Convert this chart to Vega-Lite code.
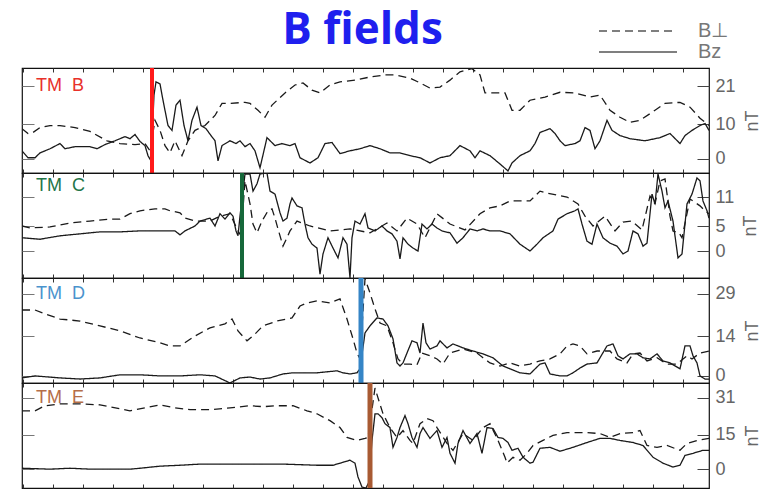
{
"$schema":"https://vega.github.io/schema/vega-lite/v6.json",
"background":"white",
"padding":{"left":20,"top":8,"right":0,"bottom":0},
"bounds":"flush",
"datasets":{
"events":[{"p":"B","t":152},{"p":"C","t":242},{"p":"D","t":361},{"p":"E","t":370}],
"lines":[
{"p":"B","s":"Bz","t":22,"v":2.3},{"p":"B","s":"Bz","t":28,"v":0.3},{"p":"B","s":"Bz","t":35,"v":0.3},{"p":"B","s":"Bz","t":40,"v":1.7},{"p":"B","s":"Bz","t":50,"v":2.9},{"p":"B","s":"Bz","t":60,"v":4.4},{"p":"B","s":"Bz","t":65,"v":2.9},{"p":"B","s":"Bz","t":75,"v":3.5},{"p":"B","s":"Bz","t":90,"v":3.5},{"p":"B","s":"Bz","t":97,"v":2.9},{"p":"B","s":"Bz","t":105,"v":4.1},{"p":"B","s":"Bz","t":115,"v":5.2},{"p":"B","s":"Bz","t":125,"v":6.4},{"p":"B","s":"Bz","t":130,"v":5.8},{"p":"B","s":"Bz","t":135,"v":7.0},{"p":"B","s":"Bz","t":140,"v":5.0},{"p":"B","s":"Bz","t":145,"v":3.8},{"p":"B","s":"Bz","t":148,"v":0.9},{"p":"B","s":"Bz","t":151,"v":-0.6},{"p":"B","s":"Bz","t":154,"v":18.4},{"p":"B","s":"Bz","t":156,"v":22.2},{"p":"B","s":"Bz","t":160,"v":21.6},{"p":"B","s":"Bz","t":163,"v":16.9},{"p":"B","s":"Bz","t":168,"v":9.6},{"p":"B","s":"Bz","t":172,"v":8.2},{"p":"B","s":"Bz","t":176,"v":15.5},{"p":"B","s":"Bz","t":180,"v":16.9},{"p":"B","s":"Bz","t":184,"v":9.6},{"p":"B","s":"Bz","t":188,"v":5.2},{"p":"B","s":"Bz","t":192,"v":11.1},{"p":"B","s":"Bz","t":197,"v":14.9},{"p":"B","s":"Bz","t":201,"v":9.6},{"p":"B","s":"Bz","t":206,"v":8.7},{"p":"B","s":"Bz","t":211,"v":6.7},{"p":"B","s":"Bz","t":215,"v":5.2},{"p":"B","s":"Bz","t":218,"v":-0.6},{"p":"B","s":"Bz","t":222,"v":3.8},{"p":"B","s":"Bz","t":230,"v":5.2},{"p":"B","s":"Bz","t":236,"v":4.4},{"p":"B","s":"Bz","t":240,"v":5.2},{"p":"B","s":"Bz","t":245,"v":3.5},{"p":"B","s":"Bz","t":250,"v":4.4},{"p":"B","s":"Bz","t":255,"v":2.3},{"p":"B","s":"Bz","t":260,"v":-2.6},{"p":"B","s":"Bz","t":267,"v":6.1},{"p":"B","s":"Bz","t":275,"v":3.8},{"p":"B","s":"Bz","t":282,"v":4.4},{"p":"B","s":"Bz","t":290,"v":3.8},{"p":"B","s":"Bz","t":295,"v":4.4},{"p":"B","s":"Bz","t":300,"v":0.3},{"p":"B","s":"Bz","t":310,"v":-1.2},{"p":"B","s":"Bz","t":318,"v":0.3},{"p":"B","s":"Bz","t":325,"v":4.4},{"p":"B","s":"Bz","t":332,"v":4.7},{"p":"B","s":"Bz","t":340,"v":1.5},{"p":"B","s":"Bz","t":350,"v":2.3},{"p":"B","s":"Bz","t":360,"v":2.9},{"p":"B","s":"Bz","t":370,"v":3.8},{"p":"B","s":"Bz","t":380,"v":2.9},{"p":"B","s":"Bz","t":390,"v":1.7},{"p":"B","s":"Bz","t":400,"v":1.7},{"p":"B","s":"Bz","t":410,"v":0.9},{"p":"B","s":"Bz","t":420,"v":0.3},{"p":"B","s":"Bz","t":430,"v":-1.2},{"p":"B","s":"Bz","t":440,"v":0.3},{"p":"B","s":"Bz","t":450,"v":0.9},{"p":"B","s":"Bz","t":460,"v":3.8},{"p":"B","s":"Bz","t":470,"v":2.3},{"p":"B","s":"Bz","t":475,"v":0.3},{"p":"B","s":"Bz","t":480,"v":2.3},{"p":"B","s":"Bz","t":490,"v":0.9},{"p":"B","s":"Bz","t":500,"v":-1.5},{"p":"B","s":"Bz","t":508,"v":-3.5},{"p":"B","s":"Bz","t":512,"v":-1.2},{"p":"B","s":"Bz","t":520,"v":0.9},{"p":"B","s":"Bz","t":530,"v":2.3},{"p":"B","s":"Bz","t":535,"v":4.4},{"p":"B","s":"Bz","t":540,"v":7.6},{"p":"B","s":"Bz","t":550,"v":8.7},{"p":"B","s":"Bz","t":555,"v":7.3},{"p":"B","s":"Bz","t":560,"v":5.2},{"p":"B","s":"Bz","t":565,"v":3.8},{"p":"B","s":"Bz","t":575,"v":4.4},{"p":"B","s":"Bz","t":580,"v":5.2},{"p":"B","s":"Bz","t":585,"v":9.0},{"p":"B","s":"Bz","t":590,"v":8.2},{"p":"B","s":"Bz","t":595,"v":2.9},{"p":"B","s":"Bz","t":600,"v":5.2},{"p":"B","s":"Bz","t":607,"v":11.1},{"p":"B","s":"Bz","t":612,"v":8.2},{"p":"B","s":"Bz","t":620,"v":6.7},{"p":"B","s":"Bz","t":630,"v":5.8},{"p":"B","s":"Bz","t":645,"v":5.2},{"p":"B","s":"Bz","t":660,"v":6.1},{"p":"B","s":"Bz","t":670,"v":7.3},{"p":"B","s":"Bz","t":680,"v":4.4},{"p":"B","s":"Bz","t":685,"v":6.7},{"p":"B","s":"Bz","t":692,"v":8.2},{"p":"B","s":"Bz","t":700,"v":9.6},{"p":"B","s":"Bz","t":705,"v":10.2},{"p":"B","s":"Bz","t":709,"v":8.2},
{"p":"B","s":"B⊥","t":22,"v":8.7},{"p":"B","s":"B⊥","t":28,"v":7.3},{"p":"B","s":"B⊥","t":33,"v":7.6},{"p":"B","s":"B⊥","t":40,"v":9.0},{"p":"B","s":"B⊥","t":50,"v":9.6},{"p":"B","s":"B⊥","t":60,"v":9.6},{"p":"B","s":"B⊥","t":75,"v":9.0},{"p":"B","s":"B⊥","t":90,"v":7.9},{"p":"B","s":"B⊥","t":107,"v":5.2},{"p":"B","s":"B⊥","t":120,"v":4.4},{"p":"B","s":"B⊥","t":135,"v":4.1},{"p":"B","s":"B⊥","t":145,"v":4.4},{"p":"B","s":"B⊥","t":150,"v":2.3},{"p":"B","s":"B⊥","t":155,"v":11.1},{"p":"B","s":"B⊥","t":160,"v":8.2},{"p":"B","s":"B⊥","t":165,"v":3.8},{"p":"B","s":"B⊥","t":170,"v":1.7},{"p":"B","s":"B⊥","t":175,"v":5.2},{"p":"B","s":"B⊥","t":182,"v":0.9},{"p":"B","s":"B⊥","t":188,"v":5.2},{"p":"B","s":"B⊥","t":195,"v":8.2},{"p":"B","s":"B⊥","t":205,"v":9.6},{"p":"B","s":"B⊥","t":215,"v":12.5},{"p":"B","s":"B⊥","t":222,"v":16.0},{"p":"B","s":"B⊥","t":230,"v":16.0},{"p":"B","s":"B⊥","t":245,"v":16.3},{"p":"B","s":"B⊥","t":250,"v":16.0},{"p":"B","s":"B⊥","t":258,"v":14.0},{"p":"B","s":"B⊥","t":265,"v":12.0},{"p":"B","s":"B⊥","t":272,"v":15.5},{"p":"B","s":"B⊥","t":285,"v":19.0},{"p":"B","s":"B⊥","t":295,"v":21.3},{"p":"B","s":"B⊥","t":303,"v":21.9},{"p":"B","s":"B⊥","t":312,"v":19.8},{"p":"B","s":"B⊥","t":320,"v":19.0},{"p":"B","s":"B⊥","t":330,"v":21.3},{"p":"B","s":"B⊥","t":340,"v":22.2},{"p":"B","s":"B⊥","t":355,"v":22.7},{"p":"B","s":"B⊥","t":370,"v":23.6},{"p":"B","s":"B⊥","t":385,"v":24.2},{"p":"B","s":"B⊥","t":395,"v":24.2},{"p":"B","s":"B⊥","t":410,"v":23.3},{"p":"B","s":"B⊥","t":420,"v":21.9},{"p":"B","s":"B⊥","t":430,"v":20.4},{"p":"B","s":"B⊥","t":440,"v":20.7},{"p":"B","s":"B⊥","t":450,"v":22.7},{"p":"B","s":"B⊥","t":460,"v":25.1},{"p":"B","s":"B⊥","t":472,"v":26.0},{"p":"B","s":"B⊥","t":480,"v":24.2},{"p":"B","s":"B⊥","t":485,"v":19.0},{"p":"B","s":"B⊥","t":495,"v":19.0},{"p":"B","s":"B⊥","t":505,"v":19.0},{"p":"B","s":"B⊥","t":512,"v":14.0},{"p":"B","s":"B⊥","t":520,"v":14.0},{"p":"B","s":"B⊥","t":530,"v":16.9},{"p":"B","s":"B⊥","t":545,"v":17.8},{"p":"B","s":"B⊥","t":560,"v":19.2},{"p":"B","s":"B⊥","t":575,"v":19.0},{"p":"B","s":"B⊥","t":590,"v":17.8},{"p":"B","s":"B⊥","t":600,"v":18.4},{"p":"B","s":"B⊥","t":610,"v":14.0},{"p":"B","s":"B⊥","t":620,"v":12.0},{"p":"B","s":"B⊥","t":630,"v":10.5},{"p":"B","s":"B⊥","t":640,"v":11.1},{"p":"B","s":"B⊥","t":655,"v":14.0},{"p":"B","s":"B⊥","t":665,"v":16.0},{"p":"B","s":"B⊥","t":680,"v":16.3},{"p":"B","s":"B⊥","t":690,"v":14.9},{"p":"B","s":"B⊥","t":700,"v":11.7},{"p":"B","s":"B⊥","t":709,"v":9.6},
{"p":"C","s":"B⊥","t":22,"v":5.1},{"p":"C","s":"B⊥","t":30,"v":4.7},{"p":"C","s":"B⊥","t":50,"v":4.9},{"p":"C","s":"B⊥","t":70,"v":5.7},{"p":"C","s":"B⊥","t":90,"v":6.1},{"p":"C","s":"B⊥","t":110,"v":6.5},{"p":"C","s":"B⊥","t":120,"v":6.5},{"p":"C","s":"B⊥","t":130,"v":7.6},{"p":"C","s":"B⊥","t":140,"v":8.2},{"p":"C","s":"B⊥","t":155,"v":8.6},{"p":"C","s":"B⊥","t":165,"v":8.6},{"p":"C","s":"B⊥","t":170,"v":8.2},{"p":"C","s":"B⊥","t":180,"v":7.8},{"p":"C","s":"B⊥","t":185,"v":6.7},{"p":"C","s":"B⊥","t":195,"v":6.1},{"p":"C","s":"B⊥","t":210,"v":6.1},{"p":"C","s":"B⊥","t":220,"v":7.1},{"p":"C","s":"B⊥","t":230,"v":7.6},{"p":"C","s":"B⊥","t":238,"v":4.1},{"p":"C","s":"B⊥","t":241,"v":3.1},{"p":"C","s":"B⊥","t":245,"v":14.3},{"p":"C","s":"B⊥","t":250,"v":9.6},{"p":"C","s":"B⊥","t":253,"v":5.5},{"p":"C","s":"B⊥","t":257,"v":3.7},{"p":"C","s":"B⊥","t":262,"v":6.1},{"p":"C","s":"B⊥","t":268,"v":8.2},{"p":"C","s":"B⊥","t":272,"v":8.6},{"p":"C","s":"B⊥","t":275,"v":6.7},{"p":"C","s":"B⊥","t":278,"v":4.5},{"p":"C","s":"B⊥","t":283,"v":1.0},{"p":"C","s":"B⊥","t":287,"v":2.7},{"p":"C","s":"B⊥","t":290,"v":4.1},{"p":"C","s":"B⊥","t":297,"v":6.1},{"p":"C","s":"B⊥","t":310,"v":5.1},{"p":"C","s":"B⊥","t":330,"v":4.1},{"p":"C","s":"B⊥","t":350,"v":4.5},{"p":"C","s":"B⊥","t":370,"v":3.7},{"p":"C","s":"B⊥","t":387,"v":5.7},{"p":"C","s":"B⊥","t":397,"v":4.1},{"p":"C","s":"B⊥","t":407,"v":6.7},{"p":"C","s":"B⊥","t":417,"v":5.5},{"p":"C","s":"B⊥","t":425,"v":2.7},{"p":"C","s":"B⊥","t":437,"v":7.6},{"p":"C","s":"B⊥","t":450,"v":5.5},{"p":"C","s":"B⊥","t":465,"v":4.3},{"p":"C","s":"B⊥","t":480,"v":7.6},{"p":"C","s":"B⊥","t":490,"v":8.8},{"p":"C","s":"B⊥","t":500,"v":9.2},{"p":"C","s":"B⊥","t":510,"v":10.2},{"p":"C","s":"B⊥","t":530,"v":10.2},{"p":"C","s":"B⊥","t":540,"v":12.2},{"p":"C","s":"B⊥","t":547,"v":11.8},{"p":"C","s":"B⊥","t":567,"v":11.0},{"p":"C","s":"B⊥","t":578,"v":9.6},{"p":"C","s":"B⊥","t":585,"v":7.1},{"p":"C","s":"B⊥","t":593,"v":5.1},{"p":"C","s":"B⊥","t":605,"v":7.1},{"p":"C","s":"B⊥","t":615,"v":4.1},{"p":"C","s":"B⊥","t":623,"v":5.9},{"p":"C","s":"B⊥","t":632,"v":6.1},{"p":"C","s":"B⊥","t":642,"v":4.3},{"p":"C","s":"B⊥","t":650,"v":11.2},{"p":"C","s":"B⊥","t":655,"v":9.6},{"p":"C","s":"B⊥","t":660,"v":14.3},{"p":"C","s":"B⊥","t":665,"v":14.7},{"p":"C","s":"B⊥","t":670,"v":7.1},{"p":"C","s":"B⊥","t":673,"v":4.1},{"p":"C","s":"B⊥","t":679,"v":3.7},{"p":"C","s":"B⊥","t":682,"v":2.7},{"p":"C","s":"B⊥","t":690,"v":10.6},{"p":"C","s":"B⊥","t":700,"v":9.2},{"p":"C","s":"B⊥","t":705,"v":8.2},{"p":"C","s":"B⊥","t":709,"v":7.6},
{"p":"C","s":"Bz","t":22,"v":2.7},{"p":"C","s":"Bz","t":40,"v":2.4},{"p":"C","s":"Bz","t":60,"v":3.1},{"p":"C","s":"Bz","t":80,"v":3.5},{"p":"C","s":"Bz","t":100,"v":3.9},{"p":"C","s":"Bz","t":120,"v":3.9},{"p":"C","s":"Bz","t":140,"v":4.1},{"p":"C","s":"Bz","t":160,"v":4.1},{"p":"C","s":"Bz","t":175,"v":4.1},{"p":"C","s":"Bz","t":180,"v":3.3},{"p":"C","s":"Bz","t":185,"v":4.1},{"p":"C","s":"Bz","t":195,"v":5.1},{"p":"C","s":"Bz","t":200,"v":6.1},{"p":"C","s":"Bz","t":210,"v":6.7},{"p":"C","s":"Bz","t":215,"v":5.1},{"p":"C","s":"Bz","t":220,"v":7.6},{"p":"C","s":"Bz","t":225,"v":6.5},{"p":"C","s":"Bz","t":230,"v":7.8},{"p":"C","s":"Bz","t":233,"v":7.1},{"p":"C","s":"Bz","t":236,"v":4.1},{"p":"C","s":"Bz","t":238,"v":3.1},{"p":"C","s":"Bz","t":240,"v":7.1},{"p":"C","s":"Bz","t":245,"v":15.7},{"p":"C","s":"Bz","t":250,"v":15.7},{"p":"C","s":"Bz","t":253,"v":12.2},{"p":"C","s":"Bz","t":257,"v":13.7},{"p":"C","s":"Bz","t":260,"v":15.7},{"p":"C","s":"Bz","t":267,"v":15.9},{"p":"C","s":"Bz","t":270,"v":12.2},{"p":"C","s":"Bz","t":275,"v":11.6},{"p":"C","s":"Bz","t":280,"v":7.8},{"p":"C","s":"Bz","t":283,"v":6.1},{"p":"C","s":"Bz","t":287,"v":6.7},{"p":"C","s":"Bz","t":290,"v":9.6},{"p":"C","s":"Bz","t":292,"v":10.8},{"p":"C","s":"Bz","t":297,"v":9.2},{"p":"C","s":"Bz","t":302,"v":8.8},{"p":"C","s":"Bz","t":305,"v":5.5},{"p":"C","s":"Bz","t":308,"v":2.7},{"p":"C","s":"Bz","t":312,"v":1.4},{"p":"C","s":"Bz","t":317,"v":0.6},{"p":"C","s":"Bz","t":320,"v":-4.7},{"p":"C","s":"Bz","t":323,"v":-0.6},{"p":"C","s":"Bz","t":328,"v":2.7},{"p":"C","s":"Bz","t":333,"v":0.6},{"p":"C","s":"Bz","t":338,"v":-1.4},{"p":"C","s":"Bz","t":343,"v":2.7},{"p":"C","s":"Bz","t":347,"v":1.4},{"p":"C","s":"Bz","t":350,"v":-5.5},{"p":"C","s":"Bz","t":352,"v":2.7},{"p":"C","s":"Bz","t":355,"v":6.1},{"p":"C","s":"Bz","t":360,"v":5.5},{"p":"C","s":"Bz","t":365,"v":7.6},{"p":"C","s":"Bz","t":368,"v":4.7},{"p":"C","s":"Bz","t":375,"v":4.1},{"p":"C","s":"Bz","t":382,"v":5.1},{"p":"C","s":"Bz","t":387,"v":4.1},{"p":"C","s":"Bz","t":392,"v":3.5},{"p":"C","s":"Bz","t":397,"v":2.0},{"p":"C","s":"Bz","t":400,"v":-1.6},{"p":"C","s":"Bz","t":403,"v":2.7},{"p":"C","s":"Bz","t":408,"v":1.4},{"p":"C","s":"Bz","t":413,"v":0.6},{"p":"C","s":"Bz","t":418,"v":0.0},{"p":"C","s":"Bz","t":422,"v":5.5},{"p":"C","s":"Bz","t":427,"v":4.5},{"p":"C","s":"Bz","t":432,"v":5.5},{"p":"C","s":"Bz","t":437,"v":4.7},{"p":"C","s":"Bz","t":442,"v":4.1},{"p":"C","s":"Bz","t":450,"v":3.7},{"p":"C","s":"Bz","t":457,"v":1.6},{"p":"C","s":"Bz","t":463,"v":2.7},{"p":"C","s":"Bz","t":470,"v":4.5},{"p":"C","s":"Bz","t":477,"v":4.1},{"p":"C","s":"Bz","t":483,"v":4.5},{"p":"C","s":"Bz","t":490,"v":4.1},{"p":"C","s":"Bz","t":500,"v":4.1},{"p":"C","s":"Bz","t":510,"v":3.5},{"p":"C","s":"Bz","t":520,"v":1.4},{"p":"C","s":"Bz","t":530,"v":0.0},{"p":"C","s":"Bz","t":537,"v":1.4},{"p":"C","s":"Bz","t":543,"v":2.7},{"p":"C","s":"Bz","t":553,"v":4.1},{"p":"C","s":"Bz","t":558,"v":6.5},{"p":"C","s":"Bz","t":567,"v":7.6},{"p":"C","s":"Bz","t":575,"v":8.2},{"p":"C","s":"Bz","t":578,"v":8.6},{"p":"C","s":"Bz","t":582,"v":5.5},{"p":"C","s":"Bz","t":587,"v":2.0},{"p":"C","s":"Bz","t":592,"v":1.4},{"p":"C","s":"Bz","t":597,"v":5.5},{"p":"C","s":"Bz","t":603,"v":2.7},{"p":"C","s":"Bz","t":610,"v":1.6},{"p":"C","s":"Bz","t":617,"v":1.0},{"p":"C","s":"Bz","t":623,"v":-0.6},{"p":"C","s":"Bz","t":628,"v":0.0},{"p":"C","s":"Bz","t":633,"v":4.1},{"p":"C","s":"Bz","t":638,"v":3.5},{"p":"C","s":"Bz","t":643,"v":1.0},{"p":"C","s":"Bz","t":647,"v":1.6},{"p":"C","s":"Bz","t":652,"v":11.6},{"p":"C","s":"Bz","t":655,"v":9.6},{"p":"C","s":"Bz","t":658,"v":15.7},{"p":"C","s":"Bz","t":662,"v":12.2},{"p":"C","s":"Bz","t":665,"v":8.8},{"p":"C","s":"Bz","t":668,"v":10.2},{"p":"C","s":"Bz","t":673,"v":6.1},{"p":"C","s":"Bz","t":678,"v":-1.4},{"p":"C","s":"Bz","t":682,"v":-0.6},{"p":"C","s":"Bz","t":687,"v":9.6},{"p":"C","s":"Bz","t":692,"v":11.6},{"p":"C","s":"Bz","t":697,"v":14.9},{"p":"C","s":"Bz","t":700,"v":14.3},{"p":"C","s":"Bz","t":703,"v":10.2},{"p":"C","s":"Bz","t":707,"v":8.2},{"p":"C","s":"Bz","t":709,"v":6.7},
{"p":"D","s":"B⊥","t":22,"v":23.3},{"p":"D","s":"B⊥","t":35,"v":23.3},{"p":"D","s":"B⊥","t":45,"v":21.9},{"p":"D","s":"B⊥","t":60,"v":20.1},{"p":"D","s":"B⊥","t":80,"v":19.4},{"p":"D","s":"B⊥","t":100,"v":17.7},{"p":"D","s":"B⊥","t":120,"v":15.9},{"p":"D","s":"B⊥","t":140,"v":13.4},{"p":"D","s":"B⊥","t":160,"v":11.7},{"p":"D","s":"B⊥","t":170,"v":10.6},{"p":"D","s":"B⊥","t":180,"v":10.6},{"p":"D","s":"B⊥","t":195,"v":14.1},{"p":"D","s":"B⊥","t":210,"v":17.0},{"p":"D","s":"B⊥","t":225,"v":18.4},{"p":"D","s":"B⊥","t":232,"v":20.1},{"p":"D","s":"B⊥","t":238,"v":15.9},{"p":"D","s":"B⊥","t":247,"v":12.4},{"p":"D","s":"B⊥","t":255,"v":14.8},{"p":"D","s":"B⊥","t":263,"v":17.7},{"p":"D","s":"B⊥","t":277,"v":19.4},{"p":"D","s":"B⊥","t":292,"v":20.5},{"p":"D","s":"B⊥","t":300,"v":24.7},{"p":"D","s":"B⊥","t":307,"v":25.8},{"p":"D","s":"B⊥","t":317,"v":26.5},{"p":"D","s":"B⊥","t":330,"v":25.8},{"p":"D","s":"B⊥","t":340,"v":27.2},{"p":"D","s":"B⊥","t":347,"v":20.1},{"p":"D","s":"B⊥","t":353,"v":13.1},{"p":"D","s":"B⊥","t":357,"v":8.1},{"p":"D","s":"B⊥","t":360,"v":6.0},{"p":"D","s":"B⊥","t":365,"v":34.3},{"p":"D","s":"B⊥","t":370,"v":29.3},{"p":"D","s":"B⊥","t":375,"v":23.7},{"p":"D","s":"B⊥","t":380,"v":18.7},{"p":"D","s":"B⊥","t":387,"v":17.7},{"p":"D","s":"B⊥","t":393,"v":11.7},{"p":"D","s":"B⊥","t":398,"v":6.0},{"p":"D","s":"B⊥","t":403,"v":4.2},{"p":"D","s":"B⊥","t":410,"v":4.2},{"p":"D","s":"B⊥","t":417,"v":3.9},{"p":"D","s":"B⊥","t":422,"v":8.1},{"p":"D","s":"B⊥","t":430,"v":7.1},{"p":"D","s":"B⊥","t":437,"v":6.0},{"p":"D","s":"B⊥","t":443,"v":4.2},{"p":"D","s":"B⊥","t":450,"v":8.1},{"p":"D","s":"B⊥","t":463,"v":9.5},{"p":"D","s":"B⊥","t":477,"v":8.1},{"p":"D","s":"B⊥","t":483,"v":6.4},{"p":"D","s":"B⊥","t":490,"v":4.6},{"p":"D","s":"B⊥","t":500,"v":3.5},{"p":"D","s":"B⊥","t":510,"v":4.6},{"p":"D","s":"B⊥","t":520,"v":3.5},{"p":"D","s":"B⊥","t":530,"v":4.2},{"p":"D","s":"B⊥","t":540,"v":5.3},{"p":"D","s":"B⊥","t":550,"v":6.0},{"p":"D","s":"B⊥","t":560,"v":7.8},{"p":"D","s":"B⊥","t":567,"v":10.6},{"p":"D","s":"B⊥","t":573,"v":11.3},{"p":"D","s":"B⊥","t":580,"v":10.6},{"p":"D","s":"B⊥","t":587,"v":7.8},{"p":"D","s":"B⊥","t":597,"v":8.8},{"p":"D","s":"B⊥","t":610,"v":8.8},{"p":"D","s":"B⊥","t":617,"v":6.0},{"p":"D","s":"B⊥","t":627,"v":4.6},{"p":"D","s":"B⊥","t":633,"v":7.8},{"p":"D","s":"B⊥","t":640,"v":8.1},{"p":"D","s":"B⊥","t":647,"v":5.3},{"p":"D","s":"B⊥","t":657,"v":6.4},{"p":"D","s":"B⊥","t":667,"v":4.2},{"p":"D","s":"B⊥","t":677,"v":4.2},{"p":"D","s":"B⊥","t":687,"v":7.1},{"p":"D","s":"B⊥","t":692,"v":6.0},{"p":"D","s":"B⊥","t":700,"v":8.1},{"p":"D","s":"B⊥","t":709,"v":8.8},
{"p":"D","s":"Bz","t":22,"v":-0.7},{"p":"D","s":"Bz","t":35,"v":0.0},{"p":"D","s":"Bz","t":60,"v":-0.7},{"p":"D","s":"Bz","t":80,"v":-1.1},{"p":"D","s":"Bz","t":100,"v":-0.7},{"p":"D","s":"Bz","t":120,"v":0.4},{"p":"D","s":"Bz","t":140,"v":0.4},{"p":"D","s":"Bz","t":160,"v":0.0},{"p":"D","s":"Bz","t":180,"v":0.0},{"p":"D","s":"Bz","t":200,"v":0.4},{"p":"D","s":"Bz","t":215,"v":0.0},{"p":"D","s":"Bz","t":230,"v":-2.5},{"p":"D","s":"Bz","t":240,"v":-0.7},{"p":"D","s":"Bz","t":250,"v":-0.4},{"p":"D","s":"Bz","t":260,"v":-1.1},{"p":"D","s":"Bz","t":270,"v":-0.7},{"p":"D","s":"Bz","t":283,"v":0.7},{"p":"D","s":"Bz","t":293,"v":1.1},{"p":"D","s":"Bz","t":317,"v":1.1},{"p":"D","s":"Bz","t":337,"v":1.8},{"p":"D","s":"Bz","t":343,"v":1.1},{"p":"D","s":"Bz","t":350,"v":0.7},{"p":"D","s":"Bz","t":357,"v":1.1},{"p":"D","s":"Bz","t":360,"v":2.5},{"p":"D","s":"Bz","t":365,"v":15.2},{"p":"D","s":"Bz","t":370,"v":17.7},{"p":"D","s":"Bz","t":377,"v":20.5},{"p":"D","s":"Bz","t":383,"v":20.1},{"p":"D","s":"Bz","t":388,"v":17.7},{"p":"D","s":"Bz","t":393,"v":13.1},{"p":"D","s":"Bz","t":397,"v":4.6},{"p":"D","s":"Bz","t":400,"v":3.5},{"p":"D","s":"Bz","t":403,"v":4.6},{"p":"D","s":"Bz","t":407,"v":8.1},{"p":"D","s":"Bz","t":412,"v":12.4},{"p":"D","s":"Bz","t":417,"v":11.7},{"p":"D","s":"Bz","t":420,"v":8.1},{"p":"D","s":"Bz","t":423,"v":18.7},{"p":"D","s":"Bz","t":426,"v":11.7},{"p":"D","s":"Bz","t":430,"v":9.5},{"p":"D","s":"Bz","t":437,"v":10.6},{"p":"D","s":"Bz","t":440,"v":12.4},{"p":"D","s":"Bz","t":447,"v":9.9},{"p":"D","s":"Bz","t":453,"v":11.3},{"p":"D","s":"Bz","t":463,"v":9.9},{"p":"D","s":"Bz","t":473,"v":8.8},{"p":"D","s":"Bz","t":483,"v":7.8},{"p":"D","s":"Bz","t":493,"v":6.4},{"p":"D","s":"Bz","t":503,"v":3.5},{"p":"D","s":"Bz","t":510,"v":2.5},{"p":"D","s":"Bz","t":520,"v":1.1},{"p":"D","s":"Bz","t":530,"v":0.7},{"p":"D","s":"Bz","t":540,"v":4.2},{"p":"D","s":"Bz","t":545,"v":4.6},{"p":"D","s":"Bz","t":550,"v":0.7},{"p":"D","s":"Bz","t":560,"v":0.0},{"p":"D","s":"Bz","t":567,"v":0.0},{"p":"D","s":"Bz","t":573,"v":1.1},{"p":"D","s":"Bz","t":580,"v":2.8},{"p":"D","s":"Bz","t":587,"v":4.2},{"p":"D","s":"Bz","t":597,"v":4.6},{"p":"D","s":"Bz","t":607,"v":10.6},{"p":"D","s":"Bz","t":613,"v":11.3},{"p":"D","s":"Bz","t":618,"v":7.1},{"p":"D","s":"Bz","t":623,"v":6.0},{"p":"D","s":"Bz","t":630,"v":7.8},{"p":"D","s":"Bz","t":637,"v":7.8},{"p":"D","s":"Bz","t":643,"v":6.4},{"p":"D","s":"Bz","t":650,"v":6.0},{"p":"D","s":"Bz","t":657,"v":7.8},{"p":"D","s":"Bz","t":663,"v":5.3},{"p":"D","s":"Bz","t":670,"v":4.6},{"p":"D","s":"Bz","t":680,"v":2.5},{"p":"D","s":"Bz","t":685,"v":10.6},{"p":"D","s":"Bz","t":690,"v":10.6},{"p":"D","s":"Bz","t":693,"v":7.1},{"p":"D","s":"Bz","t":697,"v":4.6},{"p":"D","s":"Bz","t":700,"v":0.0},{"p":"D","s":"Bz","t":705,"v":-1.1},{"p":"D","s":"Bz","t":709,"v":-1.1},
{"p":"E","s":"B⊥","t":22,"v":25.4},{"p":"E","s":"B⊥","t":35,"v":25.4},{"p":"E","s":"B⊥","t":45,"v":27.6},{"p":"E","s":"B⊥","t":60,"v":28.4},{"p":"E","s":"B⊥","t":80,"v":28.4},{"p":"E","s":"B⊥","t":100,"v":28.0},{"p":"E","s":"B⊥","t":120,"v":26.3},{"p":"E","s":"B⊥","t":130,"v":25.4},{"p":"E","s":"B⊥","t":145,"v":26.7},{"p":"E","s":"B⊥","t":160,"v":28.0},{"p":"E","s":"B⊥","t":175,"v":26.7},{"p":"E","s":"B⊥","t":190,"v":25.9},{"p":"E","s":"B⊥","t":210,"v":25.9},{"p":"E","s":"B⊥","t":230,"v":26.7},{"p":"E","s":"B⊥","t":250,"v":27.6},{"p":"E","s":"B⊥","t":263,"v":27.2},{"p":"E","s":"B⊥","t":277,"v":27.6},{"p":"E","s":"B⊥","t":293,"v":27.6},{"p":"E","s":"B⊥","t":307,"v":25.4},{"p":"E","s":"B⊥","t":317,"v":24.1},{"p":"E","s":"B⊥","t":330,"v":21.1},{"p":"E","s":"B⊥","t":340,"v":18.1},{"p":"E","s":"B⊥","t":347,"v":13.8},{"p":"E","s":"B⊥","t":357,"v":12.5},{"p":"E","s":"B⊥","t":365,"v":13.4},{"p":"E","s":"B⊥","t":368,"v":13.8},{"p":"E","s":"B⊥","t":375,"v":35.3},{"p":"E","s":"B⊥","t":378,"v":31.0},{"p":"E","s":"B⊥","t":383,"v":24.1},{"p":"E","s":"B⊥","t":390,"v":18.1},{"p":"E","s":"B⊥","t":397,"v":13.8},{"p":"E","s":"B⊥","t":403,"v":16.8},{"p":"E","s":"B⊥","t":410,"v":12.5},{"p":"E","s":"B⊥","t":413,"v":11.2},{"p":"E","s":"B⊥","t":420,"v":19.8},{"p":"E","s":"B⊥","t":427,"v":22.0},{"p":"E","s":"B⊥","t":433,"v":21.1},{"p":"E","s":"B⊥","t":437,"v":18.1},{"p":"E","s":"B⊥","t":447,"v":11.2},{"p":"E","s":"B⊥","t":453,"v":8.2},{"p":"E","s":"B⊥","t":463,"v":15.5},{"p":"E","s":"B⊥","t":473,"v":12.5},{"p":"E","s":"B⊥","t":483,"v":18.1},{"p":"E","s":"B⊥","t":490,"v":19.8},{"p":"E","s":"B⊥","t":498,"v":12.5},{"p":"E","s":"B⊥","t":505,"v":5.2},{"p":"E","s":"B⊥","t":507,"v":2.6},{"p":"E","s":"B⊥","t":513,"v":5.2},{"p":"E","s":"B⊥","t":520,"v":3.9},{"p":"E","s":"B⊥","t":527,"v":6.9},{"p":"E","s":"B⊥","t":533,"v":10.3},{"p":"E","s":"B⊥","t":543,"v":12.5},{"p":"E","s":"B⊥","t":553,"v":14.7},{"p":"E","s":"B⊥","t":567,"v":15.9},{"p":"E","s":"B⊥","t":587,"v":15.9},{"p":"E","s":"B⊥","t":600,"v":15.5},{"p":"E","s":"B⊥","t":610,"v":13.8},{"p":"E","s":"B⊥","t":620,"v":15.5},{"p":"E","s":"B⊥","t":633,"v":15.9},{"p":"E","s":"B⊥","t":640,"v":16.8},{"p":"E","s":"B⊥","t":647,"v":10.3},{"p":"E","s":"B⊥","t":657,"v":9.5},{"p":"E","s":"B⊥","t":667,"v":10.3},{"p":"E","s":"B⊥","t":680,"v":8.2},{"p":"E","s":"B⊥","t":687,"v":11.2},{"p":"E","s":"B⊥","t":697,"v":12.5},{"p":"E","s":"B⊥","t":709,"v":13.4},
{"p":"E","s":"Bz","t":22,"v":0.4},{"p":"E","s":"Bz","t":50,"v":0.0},{"p":"E","s":"Bz","t":70,"v":0.4},{"p":"E","s":"Bz","t":90,"v":0.0},{"p":"E","s":"Bz","t":130,"v":0.0},{"p":"E","s":"Bz","t":140,"v":0.4},{"p":"E","s":"Bz","t":160,"v":1.3},{"p":"E","s":"Bz","t":180,"v":1.7},{"p":"E","s":"Bz","t":200,"v":2.2},{"p":"E","s":"Bz","t":240,"v":2.2},{"p":"E","s":"Bz","t":283,"v":2.2},{"p":"E","s":"Bz","t":317,"v":1.7},{"p":"E","s":"Bz","t":333,"v":1.7},{"p":"E","s":"Bz","t":343,"v":3.0},{"p":"E","s":"Bz","t":350,"v":3.9},{"p":"E","s":"Bz","t":355,"v":2.6},{"p":"E","s":"Bz","t":358,"v":-3.4},{"p":"E","s":"Bz","t":362,"v":-7.8},{"p":"E","s":"Bz","t":366,"v":-8.2},{"p":"E","s":"Bz","t":369,"v":-5.6},{"p":"E","s":"Bz","t":372,"v":12.5},{"p":"E","s":"Bz","t":375,"v":24.1},{"p":"E","s":"Bz","t":378,"v":24.1},{"p":"E","s":"Bz","t":382,"v":22.4},{"p":"E","s":"Bz","t":385,"v":19.8},{"p":"E","s":"Bz","t":390,"v":18.1},{"p":"E","s":"Bz","t":393,"v":9.5},{"p":"E","s":"Bz","t":397,"v":13.8},{"p":"E","s":"Bz","t":400,"v":18.1},{"p":"E","s":"Bz","t":405,"v":23.3},{"p":"E","s":"Bz","t":408,"v":19.8},{"p":"E","s":"Bz","t":412,"v":13.8},{"p":"E","s":"Bz","t":417,"v":9.5},{"p":"E","s":"Bz","t":420,"v":15.5},{"p":"E","s":"Bz","t":423,"v":18.1},{"p":"E","s":"Bz","t":430,"v":13.4},{"p":"E","s":"Bz","t":437,"v":16.8},{"p":"E","s":"Bz","t":442,"v":9.5},{"p":"E","s":"Bz","t":447,"v":13.8},{"p":"E","s":"Bz","t":450,"v":6.9},{"p":"E","s":"Bz","t":455,"v":2.6},{"p":"E","s":"Bz","t":458,"v":11.2},{"p":"E","s":"Bz","t":463,"v":16.8},{"p":"E","s":"Bz","t":470,"v":11.2},{"p":"E","s":"Bz","t":477,"v":15.5},{"p":"E","s":"Bz","t":482,"v":6.9},{"p":"E","s":"Bz","t":487,"v":18.1},{"p":"E","s":"Bz","t":493,"v":17.7},{"p":"E","s":"Bz","t":498,"v":13.8},{"p":"E","s":"Bz","t":503,"v":13.4},{"p":"E","s":"Bz","t":508,"v":11.6},{"p":"E","s":"Bz","t":512,"v":8.2},{"p":"E","s":"Bz","t":518,"v":9.1},{"p":"E","s":"Bz","t":523,"v":5.2},{"p":"E","s":"Bz","t":530,"v":2.6},{"p":"E","s":"Bz","t":533,"v":3.0},{"p":"E","s":"Bz","t":540,"v":9.1},{"p":"E","s":"Bz","t":550,"v":9.5},{"p":"E","s":"Bz","t":560,"v":7.8},{"p":"E","s":"Bz","t":573,"v":9.5},{"p":"E","s":"Bz","t":587,"v":11.6},{"p":"E","s":"Bz","t":600,"v":13.4},{"p":"E","s":"Bz","t":610,"v":13.4},{"p":"E","s":"Bz","t":620,"v":12.5},{"p":"E","s":"Bz","t":633,"v":11.6},{"p":"E","s":"Bz","t":643,"v":10.3},{"p":"E","s":"Bz","t":653,"v":5.2},{"p":"E","s":"Bz","t":663,"v":2.6},{"p":"E","s":"Bz","t":673,"v":0.9},{"p":"E","s":"Bz","t":680,"v":1.7},{"p":"E","s":"Bz","t":685,"v":6.0},{"p":"E","s":"Bz","t":693,"v":6.9},{"p":"E","s":"Bz","t":703,"v":8.2},{"p":"E","s":"Bz","t":709,"v":8.2}
]},
"spacing":0,
"vconcat":[
{"width":687,"height":105,"resolve":{"axis":{"x":"independent","y":"independent"}},
"title":{"text":"B fields","anchor":"middle","frame":"group","offset":13,"dx":-3,"fontSize":44,"font":"Open Sans","fontWeight":"bold","color":"#1f1fee"},
"layer":[
{"data":{"name":"lines"},"transform":[{"filter":"datum.p==='B'"}],
"mark":{"type":"line","clip":true,"color":"#1a1a1a","strokeWidth":1.3},
"encoding":{
"x":{"field":"t","type":"quantitative","scale":{"domain":[22,709],"nice":false,"zero":false},"axis":{"orient":"bottom","values":[23,53,83,113,143,173,203,233,263,293,323,353,383,413,443,473,503,533,563,593,623,653,683],"tickSize":-4,"labels":false,"title":null,"tickColor":"#333"}},
"y":{"field":"v","type":"quantitative","scale":{"domain":[-4.1,26.2],"nice":false,"zero":false},"axis":{"orient":"right","values":[0,10,21],"tickSize":-12,"tickColor":"#444","labelPadding":18,"labelFontSize":18,"labelColor":"#666","labelFont":"Liberation Sans","title":"nT","titleAngle":-90,"titleFontSize":18,"titleFontWeight":"normal","titleColor":"#666","titleFont":"Liberation Sans","titlePadding":26}},
"strokeDash":{"field":"s","type":"nominal","scale":{"domain":["B⊥","Bz"],"range":[[8,5],[1,0]]},"legend":{"orient":"none","legendX":606,"legendY":-47,"padding":0,"symbolType":"M-13,0H13","symbolSize":36,"symbolStrokeWidth":1.3,"symbolStrokeColor":"#555","labelFontSize":20,"labelColor":"#777","labelFont":"Liberation Sans","title":null,"rowPadding":1,"labelOffset":50}}}},
{"data":{"name":"events"},"transform":[{"filter":"datum.p==='B'"}],"mark":{"type":"rule","color":"#ff1a1a","strokeWidth":4},
"encoding":{"x":{"field":"t","type":"quantitative","axis":{"orient":"top","values":[23,53,83,113,143,173,203,233,263,293,323,353,383,413,443,473,503,533,563,593,623,653,683],"tickSize":-4,"labels":false,"title":null,"tickColor":"#333"}}}},
{"data":{"values":[{"label":"TM\u00a0\u00a0B"}]},"mark":{"type":"text","align":"left","baseline":"middle","fontSize":18,"font":"Liberation Sans","color":"#e8302a"},
"encoding":{"x":{"datum":36,"type":"quantitative","axis":null},"y":{"datum":21,"type":"quantitative","axis":{"orient":"left","values":[0,10,21],"tickSize":-12,"labels":false,"title":null,"tickColor":"#777"}},"text":{"field":"label"}}}
]},
{"width":687,"height":105,"resolve":{"axis":{"x":"independent","y":"independent"}},
"layer":[
{"data":{"name":"lines"},"transform":[{"filter":"datum.p==='C'"}],
"mark":{"type":"line","clip":true,"color":"#1a1a1a","strokeWidth":1.3},
"encoding":{
"x":{"field":"t","type":"quantitative","scale":{"domain":[22,709],"nice":false,"zero":false},"axis":{"orient":"bottom","values":[23,53,83,113,143,173,203,233,263,293,323,353,383,413,443,473,503,533,563,593,623,653,683],"tickSize":-4,"labels":false,"title":null,"tickColor":"#333"}},
"y":{"field":"v","type":"quantitative","scale":{"domain":[-5.5,15.9],"nice":false,"zero":false},"axis":{"orient":"right","values":[0,5,11],"tickSize":-12,"tickColor":"#444","labelPadding":18,"labelFontSize":18,"labelColor":"#666","labelFont":"Liberation Sans","title":"nT","titleAngle":-90,"titleFontSize":18,"titleFontWeight":"normal","titleColor":"#666","titleFont":"Liberation Sans","titlePadding":26}},
"strokeDash":{"field":"s","type":"nominal","scale":{"domain":["B⊥","Bz"],"range":[[8,5],[1,0]]},"legend":{"orient":"none","legendX":606,"legendY":-47,"padding":0,"symbolType":"M-13,0H13","symbolSize":36,"symbolStrokeWidth":1.3,"symbolStrokeColor":"#555","labelFontSize":20,"labelColor":"#777","labelFont":"Liberation Sans","title":null,"rowPadding":1,"labelOffset":50}}}},
{"data":{"name":"events"},"transform":[{"filter":"datum.p==='C'"}],"mark":{"type":"rule","color":"#16683a","strokeWidth":4},
"encoding":{"x":{"field":"t","type":"quantitative","axis":{"orient":"top","values":[23,53,83,113,143,173,203,233,263,293,323,353,383,413,443,473,503,533,563,593,623,653,683],"tickSize":-4,"labels":false,"title":null,"tickColor":"#333"}}}},
{"data":{"values":[{"label":"TM\u00a0\u00a0C"}]},"mark":{"type":"text","align":"left","baseline":"middle","fontSize":18,"font":"Liberation Sans","color":"#237548"},
"encoding":{"x":{"datum":36,"type":"quantitative","axis":null},"y":{"datum":13.3,"type":"quantitative","axis":{"orient":"left","values":[0,5,11],"tickSize":-12,"labels":false,"title":null,"tickColor":"#777"}},"text":{"field":"label"}}}
]},
{"width":687,"height":105,"resolve":{"axis":{"x":"independent","y":"independent"}},
"layer":[
{"data":{"name":"lines"},"transform":[{"filter":"datum.p==='D'"}],
"mark":{"type":"line","clip":true,"color":"#1a1a1a","strokeWidth":1.3},
"encoding":{
"x":{"field":"t","type":"quantitative","scale":{"domain":[22,709],"nice":false,"zero":false},"axis":{"orient":"bottom","values":[23,53,83,113,143,173,203,233,263,293,323,353,383,413,443,473,503,533,563,593,623,653,683],"tickSize":-4,"labels":false,"title":null,"tickColor":"#333"}},
"y":{"field":"v","type":"quantitative","scale":{"domain":[-2.5,34.6],"nice":false,"zero":false},"axis":{"orient":"right","values":[0,14,29],"tickSize":-12,"tickColor":"#444","labelPadding":18,"labelFontSize":18,"labelColor":"#666","labelFont":"Liberation Sans","title":"nT","titleAngle":-90,"titleFontSize":18,"titleFontWeight":"normal","titleColor":"#666","titleFont":"Liberation Sans","titlePadding":26}},
"strokeDash":{"field":"s","type":"nominal","scale":{"domain":["B⊥","Bz"],"range":[[8,5],[1,0]]},"legend":{"orient":"none","legendX":606,"legendY":-47,"padding":0,"symbolType":"M-13,0H13","symbolSize":36,"symbolStrokeWidth":1.3,"symbolStrokeColor":"#555","labelFontSize":20,"labelColor":"#777","labelFont":"Liberation Sans","title":null,"rowPadding":1,"labelOffset":50}}}},
{"data":{"name":"events"},"transform":[{"filter":"datum.p==='D'"}],"mark":{"type":"rule","color":"#3585c6","strokeWidth":5},
"encoding":{"x":{"field":"t","type":"quantitative","axis":{"orient":"top","values":[23,53,83,113,143,173,203,233,263,293,323,353,383,413,443,473,503,533,563,593,623,653,683],"tickSize":-4,"labels":false,"title":null,"tickColor":"#333"}}}},
{"data":{"values":[{"label":"TM\u00a0\u00a0D"}]},"mark":{"type":"text","align":"left","baseline":"middle","fontSize":18,"font":"Liberation Sans","color":"#4a93cd"},
"encoding":{"x":{"datum":36,"type":"quantitative","axis":null},"y":{"datum":29,"type":"quantitative","axis":{"orient":"left","values":[0,14,29],"tickSize":-12,"labels":false,"title":null,"tickColor":"#777"}},"text":{"field":"label"}}}
]},
{"width":687,"height":105,"resolve":{"axis":{"x":"independent","y":"independent"}},
"layer":[
{"data":{"name":"lines"},"transform":[{"filter":"datum.p==='E'"}],
"mark":{"type":"line","clip":true,"color":"#1a1a1a","strokeWidth":1.3},
"encoding":{
"x":{"field":"t","type":"quantitative","scale":{"domain":[22,709],"nice":false,"zero":false},"axis":{"orient":"bottom","values":[23,53,83,113,143,173,203,233,263,293,323,353,383,413,443,473,503,533,563,593,623,653,683],"tickSize":-4,"labels":false,"title":null,"tickColor":"#333"}},
"y":{"field":"v","type":"quantitative","scale":{"domain":[-8.2,37.5],"nice":false,"zero":false},"axis":{"orient":"right","values":[0,15,31],"tickSize":-12,"tickColor":"#444","labelPadding":18,"labelFontSize":18,"labelColor":"#666","labelFont":"Liberation Sans","title":"nT","titleAngle":-90,"titleFontSize":18,"titleFontWeight":"normal","titleColor":"#666","titleFont":"Liberation Sans","titlePadding":26}},
"strokeDash":{"field":"s","type":"nominal","scale":{"domain":["B⊥","Bz"],"range":[[8,5],[1,0]]},"legend":{"orient":"none","legendX":606,"legendY":-47,"padding":0,"symbolType":"M-13,0H13","symbolSize":36,"symbolStrokeWidth":1.3,"symbolStrokeColor":"#555","labelFontSize":20,"labelColor":"#777","labelFont":"Liberation Sans","title":null,"rowPadding":1,"labelOffset":50}}}},
{"data":{"name":"events"},"transform":[{"filter":"datum.p==='E'"}],"mark":{"type":"rule","color":"#a85a33","strokeWidth":5},
"encoding":{"x":{"field":"t","type":"quantitative","axis":{"orient":"top","values":[23,53,83,113,143,173,203,233,263,293,323,353,383,413,443,473,503,533,563,593,623,653,683],"tickSize":-4,"labels":false,"title":null,"tickColor":"#333"}}}},
{"data":{"values":[{"label":"TM\u00a0\u00a0E"}]},"mark":{"type":"text","align":"left","baseline":"middle","fontSize":18,"font":"Liberation Sans","color":"#b56e48"},
"encoding":{"x":{"datum":36,"type":"quantitative","axis":null},"y":{"datum":31,"type":"quantitative","axis":{"orient":"left","values":[0,15,31],"tickSize":-12,"labels":false,"title":null,"tickColor":"#777"}},"text":{"field":"label"}}}
]}
],
"config":{"view":{"stroke":"#111","strokeWidth":1.2},"axis":{"grid":false,"domain":false}}
}
